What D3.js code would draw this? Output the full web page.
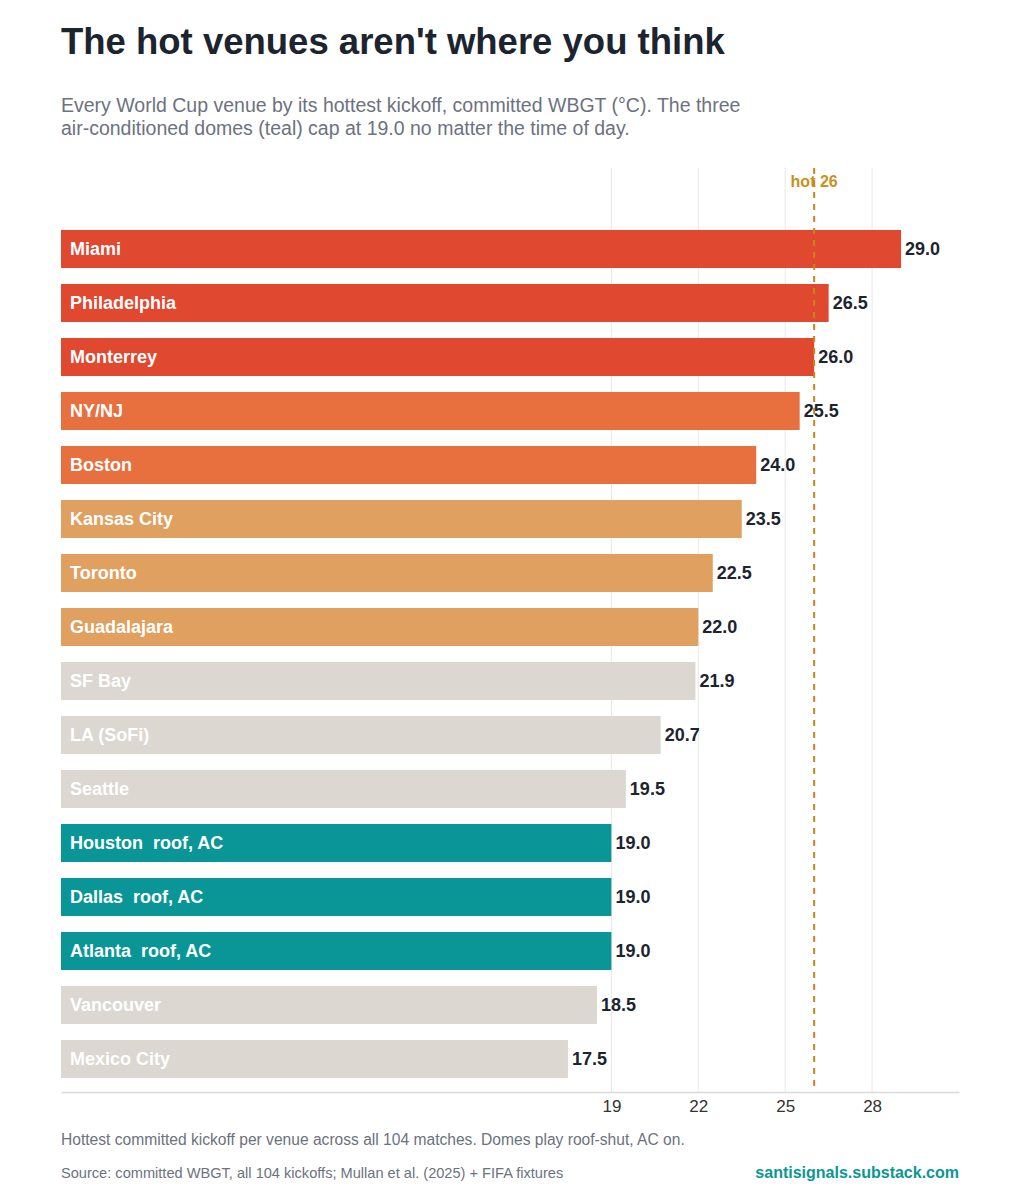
<!DOCTYPE html>
<html>
<head>
<meta charset="utf-8">
<script src="https://cdn.jsdelivr.net/npm/d3@7"></script>
<style>
  body { margin: 0; background: #fff; }
  svg { font-family: "Liberation Sans", Arial, sans-serif; }
</style>
</head>
<body>
<div id="chart"></div>
<script>
// Data
const venues = ["Miami", "Philadelphia", "Monterrey", "NY/NJ", "Boston", "Kansas City", "Toronto",
    "Guadalajara", "SF Bay", "LA (SoFi)", "Seattle", "Houston  roof, AC", "Dallas  roof, AC",
    "Atlanta  roof, AC", "Vancouver", "Mexico City"];
const wbgt = [29.0, 26.5, 26.0, 25.5, 24.0, 23.5, 22.5, 22.0, 21.9, 20.7, 19.5, 19.0, 19.0, 19.0, 18.5, 17.5];
const tiers = ["hot", "hot", "hot", "warm", "warm", "mild", "mild", "mild", "cool", "cool", "cool",
    "dome", "dome", "dome", "cool", "cool"];
const tickValues = [19, 22, 25, 28];
const hotThreshold = 26;

const width = 1020, height = 1200;
const tierColor = { hot: "#e04830", warm: "#e8703f", mild: "#e0a060", cool: "#dcd7d0", dome: "#0a9696" };

const data = venues.map((v, i) => ({ venue: v, value: wbgt[i], tier: tiers[i] }));

const svg = d3.select("#chart").append("svg")
    .attr("width", width)
    .attr("height", height);

// Title + subtitle
svg.append("text")
    .attr("x", 61).attr("y", 54)
    .style("font-size", "36.5px").style("font-weight", "bold")
    .attr("fill", "#1c2430")
    .text("The hot venues aren't where you think");

const sub = svg.append("text")
    .attr("x", 61).attr("y", 112)
    .style("font-size", "19.5px")
    .attr("fill", "#6b7280");
sub.append("tspan").attr("x", 61).text("Every World Cup venue by its hottest kickoff, committed WBGT (°C). The three");
sub.append("tspan").attr("x", 61).attr("dy", 23).text("air-conditioned domes (teal) cap at 19.0 no matter the time of day.");

// Scales
const x = d3.scaleLinear().domain([0, 31]).range([61, 959]);
const y = d3.scaleBand().domain(venues).range([214, 1094]).padding(0.296);

const gridTop = 168, axisY = 1092;

// Gridlines
svg.append("g").selectAll("line")
    .data(tickValues)
    .enter().append("line")
    .attr("x1", d => x(d)).attr("x2", d => x(d))
    .attr("y1", gridTop).attr("y2", axisY)
    .attr("stroke", "#e8e8e8").attr("stroke-width", 1);

// Bars
svg.append("g").selectAll("rect")
    .data(data)
    .enter().append("rect")
    .attr("x", x(0))
    .attr("y", d => y(d.venue))
    .attr("width", d => x(d.value) - x(0))
    .attr("height", y.bandwidth())
    .attr("fill", d => tierColor[d.tier]);

// Venue labels inside bars
svg.append("g").selectAll("text")
    .data(data)
    .enter().append("text")
    .attr("x", x(0) + 9)
    .attr("y", d => y(d.venue) + y.bandwidth() / 2)
    .attr("dy", "0.33em")
    .style("font-size", "18px").style("font-weight", "bold")
    .style("white-space", "pre")
    .attr("fill", "#fff")
    .text(d => d.venue);

// Value labels
svg.append("g").selectAll("text")
    .data(data)
    .enter().append("text")
    .attr("x", d => x(d.value) + 4)
    .attr("y", d => y(d.venue) + y.bandwidth() / 2)
    .attr("dy", "0.33em")
    .style("font-size", "18px").style("font-weight", "bold")
    .attr("fill", "#1c2430")
    .text(d => d.value.toFixed(1));

// Hot threshold label + dashed line
svg.append("text")
    .attr("x", x(hotThreshold)).attr("y", 187)
    .attr("text-anchor", "middle")
    .style("font-size", "16px").style("font-weight", "bold")
    .attr("fill", "#c8901e")
    .text("hot " + hotThreshold);

svg.append("line")
    .attr("x1", x(hotThreshold)).attr("x2", x(hotThreshold))
    .attr("y1", gridTop).attr("y2", axisY)
    .attr("stroke", "#c8861a").attr("stroke-width", 2)
    .attr("stroke-dasharray", "6,6");

// Axis
const xAxis = svg.append("g")
    .attr("transform", `translate(0,${axisY})`)
    .call(d3.axisBottom(x).tickValues(tickValues).tickSize(0).tickPadding(8));
xAxis.select(".domain").attr("stroke", "#d9d9d9").attr("stroke-width", 1.5);
xAxis.selectAll("text")
    .style("font-size", "17px")
    .style("font-family", "Liberation Sans, Arial, sans-serif")
    .attr("fill", "#333");

// Footer
svg.append("text")
    .attr("x", 61).attr("y", 1145)
    .style("font-size", "15.6px")
    .attr("fill", "#6b7280")
    .text("Hottest committed kickoff per venue across all 104 matches. Domes play roof-shut, AC on.");

svg.append("text")
    .attr("x", 61).attr("y", 1178)
    .style("font-size", "14.6px")
    .attr("fill", "#6b7280")
    .text("Source: committed WBGT, all 104 kickoffs; Mullan et al. (2025) + FIFA fixtures");

svg.append("text")
    .attr("x", 959).attr("y", 1178)
    .attr("text-anchor", "end")
    .style("font-size", "16px").style("font-weight", "bold")
    .attr("fill", "#0a9696")
    .text("santisignals.substack.com");
</script>
</body>
</html>
